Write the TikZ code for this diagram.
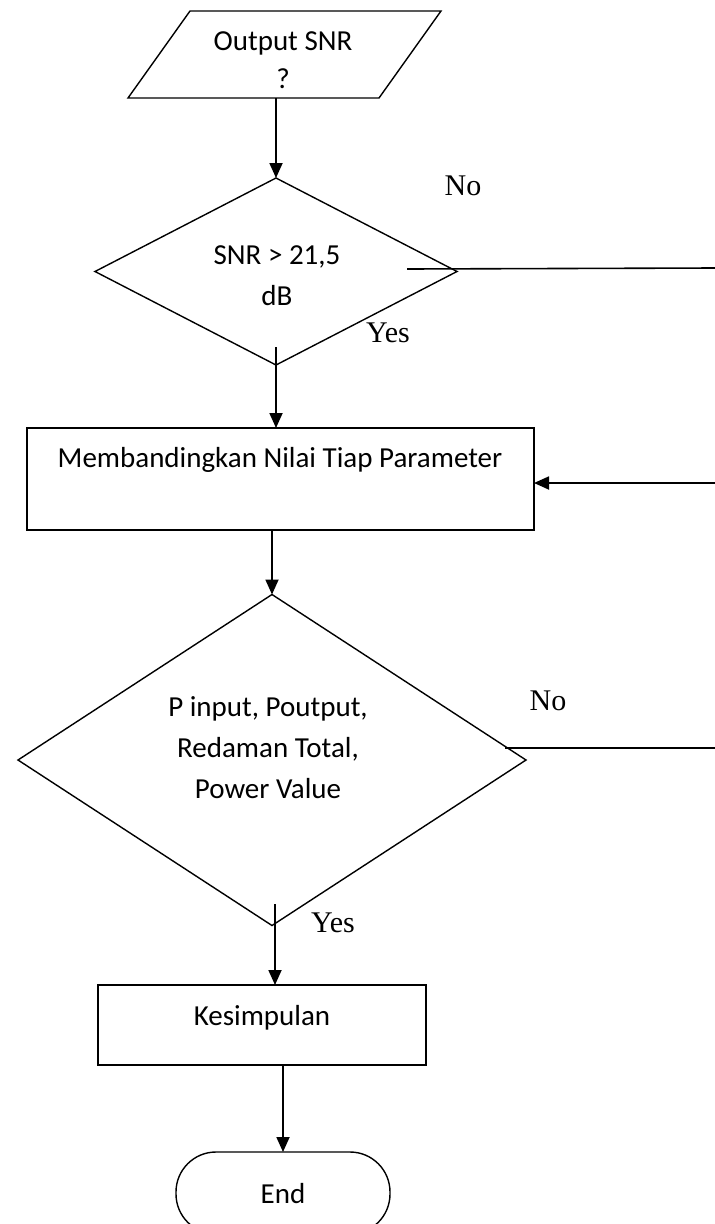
\documentclass[tikz,border=0pt]{standalone}
\usepackage{fontspec}
\setmainfont{Carlito}
\newfontfamily\answerfont{Liberation Serif}
\usetikzlibrary{shapes.geometric,arrows.meta}

\begin{document}
\begin{tikzpicture}[x=1pt,y=-1pt,
  flow/.style={draw=black, line width=1.4pt},
  boxtext/.style={font=\fontsize{29}{41}\selectfont, align=center, anchor=base, inner sep=0pt},
  answer/.style={font=\answerfont\fontsize{30}{36}\selectfont, anchor=base, inner sep=0pt},
  arr/.style={line width=1.8pt, -{Triangle[length=15pt,width=13pt]}},
  plain/.style={line width=1.6pt},
  decision/.style={flow, shape=diamond, inner sep=0pt, outer sep=0pt},
  stepbox/.style={flow, shape=rectangle, inner sep=0pt, outer sep=0pt},
]
\useasboundingbox (0,0) rectangle (715,1224);

% input / output block (parallelogram around an invisible frame)
\node[inner sep=0pt, outer sep=0pt, minimum width=251pt, minimum height=87pt] (io) at (284.5,54.5) {};
\draw[flow] ([xshift=-31pt]io.south west) -- ([xshift=31pt]io.north west)
  -- ([xshift=31pt]io.north east) -- ([xshift=-31pt]io.south east) -- cycle;
% multi-line labels sit on the baseline of their last line
\node[boxtext] (iot) at (283,88) {Output SNR\\[-3pt]?};

% first decision
\node[decision, minimum width=362pt, minimum height=187pt] (d1) at (276,271.5) {};
\node[boxtext] (d1t) at (277,305) {SNR > 21,5\\dB};
\draw[arr] (io.south -| d1.north) -- (d1.north);

\node[answer] (no1) at (463,195) {No};
\coordinate (n1a) at (407,269);
\coordinate (n1b) at (715,268);
\draw[plain] (n1a) -- (n1b);

\node[answer] (yes1) at (388,342) {Yes};

% comparison step
\node[stepbox, minimum width=507pt, minimum height=102pt] (r1) at (280.5,479) {};
\node[boxtext] (r1t) at (280,467) {Membandingkan Nilai Tiap Parameter};
\coordinate (y1a) at (276,347);
\draw[arr] (y1a) -- (y1a |- r1.north);
\coordinate (fb) at (715,483);
\draw[arr] (fb) -- (fb -| r1.east);

% second decision
\node[decision, minimum width=508pt, minimum height=331pt] (d2) at (272,760) {};
\node[boxtext] (d2t) at (268,798) {P input, Poutput,\\Redaman Total,\\Power Value};
\draw[arr] (r1.south -| d2.north) -- (d2.north);

\node[answer] (no2) at (548,710) {No};
\coordinate (n2a) at (505,748);
\coordinate (n2b) at (715,748);
\draw[plain] (n2a) -- (n2b);

\node[answer] (yes2) at (333,932) {Yes};

% conclusion and end
\node[stepbox, minimum width=328pt, minimum height=80pt] (k) at (262,1025) {};
\node[boxtext] (kt) at (262,1025) {Kesimpulan};
\coordinate (y2a) at (275,904);
\draw[arr] (y2a) -- (y2a |- k.north);

\node[flow, rounded corners=40pt, inner sep=0pt, outer sep=0pt, minimum width=214pt, minimum height=82pt] (e) at (283,1193) {};
\node[boxtext] (et) at (283,1203) {End};
\draw[arr] (k.south -| e.north) -- (e.north);
\end{tikzpicture}
\end{document}
